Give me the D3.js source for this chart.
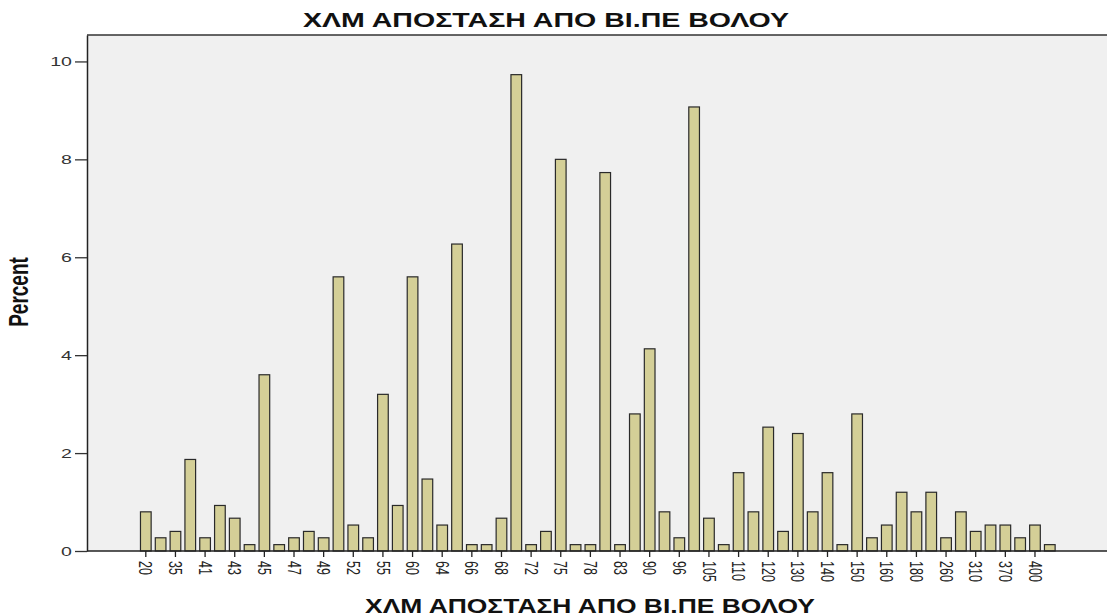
<!DOCTYPE html>
<html>
<head>
<meta charset="utf-8">
<script src="https://cdn.jsdelivr.net/npm/d3@7"></script>
<style>
  body { margin: 0; background: #fff; }
  text { font-family: Arial, "Liberation Sans", sans-serif; }
</style>
</head>
<body>
<div id="chart"></div>
<script>
let svgWidth = 1107;
let svgHeight = 616;

// categories (km), only every other one is labelled on the axis
let distances = [20, 30, 35, 40, 41, 42, 43, 44, 45, 46, 47, 48, 49, 50, 52, 53, 55, 58, 60, 62,
  64, 65, 66, 67, 68, 70, 72, 73, 75, 76, 78, 80, 83, 85, 90, 95, 96, 100, 105, 108,
  110, 115, 120, 125, 130, 135, 140, 145, 150, 155, 160, 170, 180, 200, 260, 300, 310, 350, 370, 380,
  400, 450];

let percents = [0.80, 0.27, 0.40, 1.87, 0.27, 0.93, 0.67, 0.13, 3.60, 0.13, 0.27, 0.40, 0.27, 5.60, 0.53, 0.27, 3.20, 0.93, 5.60, 1.47,
  0.53, 6.27, 0.13, 0.13, 0.67, 9.73, 0.13, 0.40, 8.00, 0.13, 0.13, 7.73, 0.13, 2.80, 4.13, 0.80, 0.27, 9.07, 0.67, 0.13,
  1.60, 0.80, 2.53, 0.40, 2.40, 0.80, 1.60, 0.13, 2.80, 0.27, 0.53, 1.20, 0.80, 1.20, 0.27, 0.80, 0.40, 0.53, 0.53, 0.27,
  0.53, 0.13];

let yTicks = [0, 2, 4, 6, 8, 10];
let titleText = "ΧΛΜ ΑΠΟΣΤΑΣΗ ΑΠΟ ΒΙ.ΠΕ ΒΟΛΟΥ";
let yTitle = "Percent";

let data = distances.map((d, i) => ({ km: d, pct: percents[i] }));

// plot frame
let plotL = 87, plotT = 35, plotR = 1110, plotB = 551;
let stretch = 1.45; // the picture's text is wide

let svg = d3.select("#chart").append("svg").attr("width", svgWidth).attr("height", svgHeight);

svg.append("rect")
  .attr("x", plotL).attr("y", plotT)
  .attr("width", plotR - plotL).attr("height", plotB - plotT)
  .attr("fill", "#f0f0f0");

let xScale = d3.scaleBand()
  .domain(distances)
  .range([138.4, 1057.2])
  .paddingInner(0.28)
  .paddingOuter(0.14);

let yScale = d3.scaleLinear()
  .domain([0, 10.54])
  .range([plotB, plotT]);

// bars
svg.append("g").selectAll("rect")
  .data(data)
  .enter()
  .append("rect")
  .attr("x", d => xScale(d.km))
  .attr("y", d => yScale(d.pct))
  .attr("width", xScale.bandwidth())
  .attr("height", d => plotB - yScale(d.pct))
  .attr("fill", "#d4cf97")
  .attr("stroke", "#2a2a2a")
  .attr("stroke-width", 1.2);

// frame lines
svg.append("line").attr("x1", plotL).attr("x2", plotR).attr("y1", plotT).attr("y2", plotT)
  .attr("stroke", "#333").attr("stroke-width", 1.5);

// y axis
let yAxis = svg.append("g")
  .attr("transform", `translate(${plotL},0)`)
  .call(d3.axisLeft(yScale).tickValues(yTicks).tickSize(12).tickSizeOuter(0).tickPadding(0).tickFormat(d3.format("d")));
yAxis.select(".domain").attr("stroke", "#222").attr("stroke-width", 1.5);
yAxis.selectAll(".tick line").attr("stroke", "#333").attr("stroke-width", 1.3);
yAxis.selectAll(".tick text")
  .attr("x", null)
  .attr("dy", null)
  .attr("text-anchor", "end")
  .attr("dominant-baseline", "central")
  .attr("transform", `translate(-15,0) scale(${stretch},1)`)
  .attr("font-size", 13.5)
  .attr("fill", "#333");

// x axis
let labelled = distances.filter((d, i) => i % 2 == 0);
let xAxis = svg.append("g")
  .attr("transform", `translate(0,${plotB})`)
  .call(d3.axisBottom(xScale).tickValues(labelled).tickSize(6).tickSizeOuter(0));
xAxis.select(".domain").attr("d", `M${plotL},0H${plotR}`).attr("stroke", "#222").attr("stroke-width", 1.5);
xAxis.selectAll(".tick line").attr("stroke", "#222").attr("stroke-width", 1.3);
xAxis.selectAll(".tick text")
  .attr("y", null)
  .attr("dy", null)
  .attr("text-anchor", "start")
  .attr("dominant-baseline", "central")
  .attr("transform", `translate(0,10) scale(${stretch},1) rotate(90)`)
  .attr("font-size", 12.5)
  .attr("fill", "#222");

// titles
svg.append("text")
  .attr("transform", "translate(546,27)")
  .attr("text-anchor", "middle")
  .attr("font-size", 20)
  .attr("font-weight", "bold")
  .attr("textLength", 486)
  .attr("lengthAdjust", "spacingAndGlyphs")
  .attr("fill", "#111")
  .text(titleText);

svg.append("text")
  .attr("transform", "translate(590,613)")
  .attr("text-anchor", "middle")
  .attr("font-size", 20)
  .attr("font-weight", "bold")
  .attr("textLength", 450)
  .attr("lengthAdjust", "spacingAndGlyphs")
  .attr("fill", "#111")
  .text(titleText);

svg.append("text")
  .attr("transform", `translate(28,292) scale(${stretch},1) rotate(-90)`)
  .attr("text-anchor", "middle")
  .attr("font-size", 19)
  .attr("font-weight", "bold")
  .attr("fill", "#111")
  .text(yTitle);
</script>
</body>
</html>
